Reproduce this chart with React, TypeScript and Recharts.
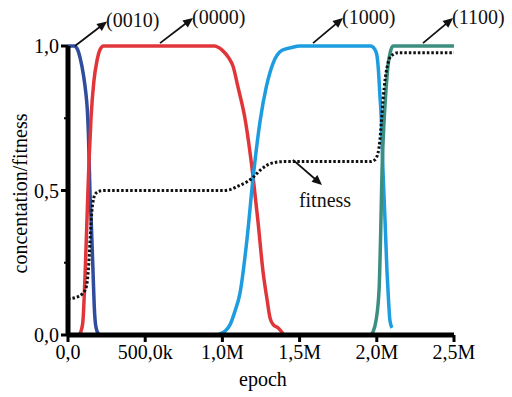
import React from 'react';
import { LineChart, Line, XAxis, YAxis, ReferenceLine } from 'recharts';

// ---- tick labels ----
const xTicks = [0, 500000, 1000000, 1500000, 2000000, 2500000];
const xTickLabels = ['0,0', '500,0k', '1,0M', '1,5M', '2,0M', '2,5M'];
const yTicks = [0, 0.25, 0.5, 0.75, 1];
const yTickLabels = ['0,0', '', '0,5', '', '1,0'];

// ---- series (0010) ----
const s0010Epoch = [0, 40000, 60000, 78000, 100000, 115000, 125000, 132000, 142000, 152000, 162000, 170000, 180000, 195000, 207000];
const s0010Value = [1.0, 1.0, 0.99, 0.96, 0.9, 0.84, 0.78, 0.7, 0.5, 0.37, 0.22, 0.1, 0.03, 0.005, 0.0];

// ---- series (0000) ----
const s0000Epoch = [70000, 78000, 88000, 97000, 110000, 123000, 136000, 149000, 168000, 188000, 210000, 230000, 950000, 975000, 1000000, 1040000, 1069000, 1100000, 1146000, 1198000, 1231000, 1263000, 1290000, 1308000, 1330000, 1360000, 1392000];
const s0000Value = [0.0, 0.005, 0.02, 0.05, 0.2, 0.4, 0.6, 0.75, 0.88, 0.95, 0.99, 1.0, 1.0, 0.995, 0.985, 0.96, 0.93, 0.86, 0.75, 0.55, 0.39, 0.22, 0.12, 0.06, 0.035, 0.025, 0.005];

// ---- series (1000) ----
const s1000Epoch = [960000, 990000, 1020000, 1049000, 1080000, 1114000, 1159000, 1198000, 1244000, 1285000, 1328000, 1386000, 1450000, 1500000, 1960000, 1985000, 2000000, 2010000, 2020000, 2030000, 2040000, 2053000, 2066000, 2076000, 2085000, 2098000];
const s1000Value = [0.0, 0.005, 0.015, 0.035, 0.08, 0.145, 0.33, 0.54, 0.74, 0.86, 0.94, 0.985, 0.995, 1.0, 1.0, 0.99, 0.97, 0.92, 0.83, 0.74, 0.57, 0.4, 0.22, 0.12, 0.05, 0.025];

// ---- series (1100) ----
const s1100Epoch = [1960000, 1975000, 1995000, 2015000, 2025000, 2034000, 2047000, 2060000, 2072000, 2088000, 2105000, 2500000];
const s1100Value = [0.0, 0.01, 0.05, 0.16, 0.35, 0.57, 0.74, 0.85, 0.93, 0.98, 1.0, 1.0];

// ---- fitness ----
const fitEpoch = [0, 50000, 97000, 120000, 135000, 145000, 155000, 165000, 180000, 205000, 240000, 1000000, 1049000, 1100000, 1159000, 1198000, 1244000, 1290000, 1340000, 1400000, 1960000, 1985000, 2008000, 2020000, 2030000, 2040000, 2055000, 2070000, 2085000, 2110000, 2140000, 2500000];
const fitValue = [0.125, 0.13, 0.145, 0.17, 0.25, 0.35, 0.43, 0.47, 0.49, 0.498, 0.5, 0.5, 0.503, 0.515, 0.53, 0.545, 0.57, 0.588, 0.597, 0.6, 0.6, 0.605, 0.63, 0.675, 0.74, 0.81, 0.89, 0.935, 0.96, 0.972, 0.977, 0.977];

// ---- annotations ----
const annLabels = ['(0010)', '(0000)', '(1000)', '(1100)', 'fitness'];
const annFrom = [[45000, 1.0], [596000, 1.01], [1587000, 1.01], [2299000, 1.01], [1457000, 0.606]];
const annTo = [[253000, 1.085], [810000, 1.097], [1781000, 1.097], [2494000, 1.097], [1645000, 0.519]];

const toData = (xs: number[], ys: number[]) => xs.map((x, i) => ({ epoch: x, value: ys[i] }));

const FONT = '"Liberation Serif", "Times New Roman", serif';

const YTick = (props: any) => {
  const { x, y, index } = props;
  const label = yTickLabels[index];
  const axisX = x + 8;
  const major = label !== '';
  return (
    <g>
      <line x1={axisX} x2={axisX - (major ? 7 : 4)} y1={y} y2={y} stroke="#000" strokeWidth={major ? 3 : 2} />
      {major && (
        <text x={x - 1} y={y} dy="0.35em" textAnchor="end" fontFamily={FONT} fontSize={20} fill="#000">
          {label}
        </text>
      )}
    </g>
  );
};

const makeArrow = (idx: number) => (p: any) => {
  const { x1, y1, x2, y2 } = p;
  const dx = x2 - x1;
  const dy = y2 - y1;
  const len = Math.sqrt(dx * dx + dy * dy) || 1;
  const ux = dx / len;
  const uy = dy / len;
  const hl = 10;
  const hw = 4.5;
  const bx = x2 - ux * hl;
  const by = y2 - uy * hl;
  const pts = `${x2},${y2} ${bx - uy * hw},${by + ux * hw} ${bx + uy * hw},${by - ux * hw}`;
  const isFit = idx === 4;
  return (
    <g>
      <line x1={x1} y1={y1} x2={bx + ux * 2} y2={by + uy * 2} stroke="#111" strokeWidth={1.8} />
      <polygon points={pts} fill="#111" />
      <text
        x={isFit ? x2 + 3 : x2 - 1}
        y={isFit ? y2 + 22 : y2 + 6}
        textAnchor={isFit ? 'middle' : 'start'}
        fontFamily={FONT}
        fontSize={20}
        fill="#111"
      >
        {annLabels[idx]}
      </text>
    </g>
  );
};

export default function App() {
  return (
    <div style={{ position: 'absolute', left: 0, top: 0, width: 512, height: 397, background: '#fff' }}>
      <LineChart width={512} height={397} margin={{ top: 46, right: 58, bottom: 0, left: 0 }}>
        <XAxis
          dataKey="epoch"
          type="number"
          domain={[0, 2500000]}
          ticks={xTicks}
          allowDuplicatedCategory={false}
          tickFormatter={(v: number) => xTickLabels[xTicks.indexOf(v)] ?? ''}
          height={62}
          axisLine={{ stroke: '#000', strokeWidth: 5 }}
          tickLine={{ stroke: '#000', strokeWidth: 3 }}
          tickSize={7}
          tickMargin={3}
          tick={{ fill: '#000', fontFamily: FONT, fontSize: 20 }}
          interval={0}
          label={(lp: any) => {
            const vb = lp.viewBox || { x: 68, y: 335, width: 386, height: 62 };
            return (
              <text x={vb.x + vb.width / 2 + 2} y={vb.y + 51} textAnchor="middle" fontFamily={FONT} fontSize={20} fill="#000">
                epoch
              </text>
            );
          }}
        />
        <YAxis
          type="number"
          domain={[0, 1]}
          ticks={yTicks}
          width={68}
          axisLine={{ stroke: '#000', strokeWidth: 5 }}
          tickLine={false}
          tickSize={6}
          tickMargin={2}
          interval={0}
          tick={<YTick />}
          label={(lp: any) => {
            const vb = lp.viewBox || { x: 0, y: 46, width: 68, height: 289 };
            const cx = 20;
            const cy = vb.y + vb.height / 2 + 3;
            return (
              <text x={cx} y={cy} transform={`rotate(-90, ${cx}, ${cy})`} textAnchor="middle" dominantBaseline="central" fontFamily={FONT} fontSize={20} fill="#000">
                concentation/fitness
              </text>
            );
          }}
        />
        <Line data={toData(s0010Epoch, s0010Value)} dataKey="value" type="monotone" stroke="#2f4d9c" strokeWidth={3.5} dot={false} isAnimationActive={false} />
        <Line data={toData(s0000Epoch, s0000Value)} dataKey="value" type="monotone" stroke="#e0363a" strokeWidth={3.5} dot={false} isAnimationActive={false} />
        <Line data={toData(s1000Epoch, s1000Value)} dataKey="value" type="monotone" stroke="#1d9de0" strokeWidth={3.5} dot={false} isAnimationActive={false} />
        <Line data={toData(s1100Epoch, s1100Value)} dataKey="value" type="monotone" stroke="#3c8f80" strokeWidth={3.5} dot={false} isAnimationActive={false} />
        <Line data={toData(fitEpoch, fitValue)} dataKey="value" type="monotone" stroke="#111" strokeWidth={3} strokeDasharray="2.5 2" dot={false} isAnimationActive={false} />
        {annLabels.map((lab, i) => (
          <ReferenceLine
            key={lab}
            segment={[{ x: annFrom[i][0], y: annFrom[i][1] }, { x: annTo[i][0], y: annTo[i][1] }]}
            ifOverflow="visible"
            shape={makeArrow(i)}
          />
        ))}
      </LineChart>
    </div>
  );
}
